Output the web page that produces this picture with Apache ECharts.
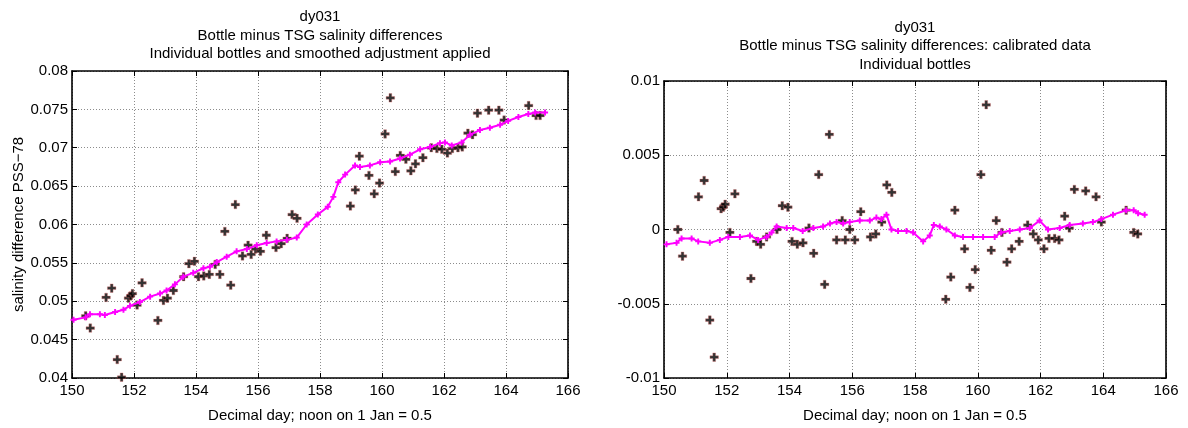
<!DOCTYPE html>
<html>
<head>
<meta charset="utf-8">
<script src="https://cdn.jsdelivr.net/npm/echarts@6/dist/echarts.min.js"></script>
<style>
html,body{margin:0;padding:0;background:#fff;}
#chart{width:1188px;height:428px;}
</style>
</head>
<body>
<div id="chart"></div>
<script>
// ---- Data ----
const xTicks = [150, 152, 154, 156, 158, 160, 162, 164, 166];

// Bottle sample times (decimal day)
const bottleDays = [150.44,150.59,151.10,151.28,151.46,151.60,151.82,151.89,151.95,152.10,152.26,152.77,152.95,153.08,153.27,153.60,153.77,153.95,154.08,154.25,154.43,154.62,154.77,154.93,155.12,155.27,155.50,155.68,155.78,155.92,156.08,156.27,156.58,156.75,156.94,157.10,157.26,158.98,159.14,159.27,159.58,159.75,159.92,160.10,160.27,160.43,160.59,160.77,160.93,161.08,161.32,161.59,161.77,161.93,162.11,162.27,162.45,162.59,162.77,162.92,163.08,163.44,163.77,163.94,164.73,164.97,165.10];

// Left panel: bottle minus TSG differences
const bottleLeft = [0.0481,0.0465,0.0505,0.0517,0.0424,0.0401,0.0504,0.0507,0.0510,0.0495,0.0524,0.0475,0.0501,0.0504,0.0514,0.0532,0.0549,0.0552,0.0532,0.0533,0.0535,0.0548,0.0535,0.0591,0.0521,0.0626,0.0559,0.0573,0.0561,0.0568,0.0565,0.0586,0.0570,0.0575,0.0582,0.0613,0.0608,0.0624,0.0645,0.0689,0.0664,0.0640,0.0654,0.0718,0.0765,0.0669,0.0690,0.0685,0.0670,0.0679,0.0687,0.0700,0.0699,0.0698,0.0693,0.0699,0.0700,0.0701,0.0719,0.0717,0.0745,0.0749,0.0749,0.0736,0.0755,0.0742,0.0742];

// Right panel: calibrated differences
const bottleRight = [0.0000,-0.0018,0.0022,0.0033,-0.0061,-0.0086,0.0014,0.0015,0.0017,-0.0002,0.0024,-0.0033,-0.0008,-0.0010,-0.0005,0.0000,0.0016,0.0015,-0.0008,-0.0010,-0.0009,0.0001,-0.0016,0.0037,-0.0037,0.0064,-0.0007,0.0006,-0.0007,0.0000,-0.0007,0.0012,-0.0005,-0.0003,0.0005,0.0030,0.0025,-0.0047,-0.0032,0.0013,-0.0013,-0.0039,-0.0027,0.0037,0.0084,-0.0014,0.0006,-0.0002,-0.0022,-0.0013,-0.0008,0.0003,-0.0003,-0.0007,-0.0013,-0.0006,-0.0006,-0.0007,0.0009,0.0001,0.0027,0.0026,0.0022,0.0005,0.0013,-0.0002,-0.0003];

// Smoothed adjustment (left panel)
const smoothLeftDays = [150.05,150.44,150.58,150.90,151.06,151.39,151.66,151.87,152.19,152.52,152.84,153.05,153.32,153.59,153.91,154.24,154.45,154.67,154.99,155.31,155.64,155.96,156.28,156.60,156.93,157.25,157.57,157.93,158.25,158.43,158.59,158.81,159.13,159.29,159.61,159.94,160.26,160.58,160.90,161.23,161.55,161.87,162.03,162.25,162.57,162.84,163.16,163.48,163.81,164.07,164.40,164.72,164.94,165.26];
const smoothLeft = [0.0476,0.0479,0.0483,0.0483,0.0482,0.0486,0.0489,0.0494,0.0499,0.0506,0.0510,0.0514,0.0522,0.0532,0.0537,0.0543,0.0545,0.0551,0.0558,0.0565,0.0568,0.0573,0.0576,0.0578,0.0580,0.0583,0.0600,0.0613,0.0623,0.0636,0.0655,0.0665,0.0677,0.0675,0.0677,0.0681,0.0682,0.0686,0.0691,0.0698,0.0701,0.0706,0.0707,0.0703,0.0707,0.0717,0.0723,0.0726,0.0730,0.0735,0.0740,0.0744,0.0746,0.0746];

// Smoothed residual (right panel)
const smoothRightDays = [150.08,150.40,150.56,150.88,151.09,151.46,151.78,152.05,152.42,152.74,153.00,153.27,153.43,153.59,153.91,154.12,154.42,154.76,155.07,155.29,155.50,155.71,155.92,156.24,156.56,156.77,156.93,157.09,157.25,157.46,157.73,157.94,158.26,158.47,158.60,158.79,159.00,159.27,159.53,159.85,160.17,160.54,160.75,161.02,161.34,161.66,161.97,162.24,162.61,162.93,163.35,163.67,163.94,164.31,164.73,164.97,165.11,165.32];
const smoothRight = [-0.0010,-0.0009,-0.0006,-0.0006,-0.0008,-0.0009,-0.0007,-0.0005,-0.0005,-0.0004,-0.0007,-0.0005,-0.0002,0.0002,0.0001,0.0001,-0.0001,0.0001,0.0002,0.0004,0.0005,0.0004,0.0005,0.0006,0.0006,0.0008,0.0007,0.0010,0.0000,-0.0001,-0.0001,-0.0002,-0.0008,-0.0004,0.0003,0.0002,0.0000,-0.0004,-0.0005,-0.0005,-0.0005,-0.0005,-0.0002,-0.0001,0.0000,0.0001,0.0006,0.0000,0.0001,0.0003,0.0004,0.0005,0.0007,0.0010,0.0013,0.0013,0.0011,0.0010];

const titleLeft = ['dy031', 'Bottle minus TSG salinity differences', 'Individual bottles and smoothed adjustment applied'];
const titleRight = ['dy031', 'Bottle minus TSG salinity differences: calibrated data', 'Individual bottles'];
const xName = 'Decimal day; noon on 1 Jan = 0.5';
const yNameLeft = 'salinity difference PSS\u221278';

// ---- Chart ----
const FONT = "'Liberation Sans', Arial, Helvetica, sans-serif";
const FS = 15;
const PLUS = 'path://M2.7,0 L5.3,0 L5.3,2.7 L8,2.7 L8,5.3 L5.3,5.3 L5.3,8 L2.7,8 L2.7,5.3 L0,5.3 L0,2.7 L2.7,2.7 Z';
const zip = (a, b) => a.map((v, i) => [v, b[i]]);
const fmt = v => (Math.abs(v) < 1e-12 ? '0' : String(+v.toFixed(3)));
const GRIDLINE = { show: true, lineStyle: { color: '#8c8c8c', type: [1, 2], width: 1 } };

function xAxes(gi) {
  return [
    { gridIndex: gi, type: 'value', position: 'bottom', min: xTicks[0], max: xTicks[xTicks.length - 1], interval: 2,
      axisLine: { show: true, onZero: false, lineStyle: { color: '#000', width: 1.6 } },
      axisTick: { show: true, inside: true, length: 5, lineStyle: { color: '#000', width: 1 } },
      axisLabel: { color: '#000', fontSize: FS, fontFamily: FONT, margin: 5 },
      splitLine: GRIDLINE,
      name: xName, nameLocation: 'middle', nameGap: 30,
      nameTextStyle: { color: '#000', fontSize: FS, fontFamily: FONT } },
    { gridIndex: gi, type: 'value', position: 'top', min: xTicks[0], max: xTicks[xTicks.length - 1], interval: 2,
      axisLine: { show: true, onZero: false, lineStyle: { color: '#000', width: 1.6 } },
      axisTick: { show: true, inside: true, length: 5, lineStyle: { color: '#000', width: 1 } },
      axisLabel: { show: false }, splitLine: { show: false } }
  ];
}
function yAxes(gi, min, max, interval, name) {
  const main = { gridIndex: gi, type: 'value', position: 'left', min: min, max: max, interval: interval,
      axisLine: { show: true, onZero: false, lineStyle: { color: '#000', width: 1.6 } },
      axisTick: { show: true, inside: true, length: 5, lineStyle: { color: '#000', width: 1 } },
      axisLabel: { color: '#000', fontSize: FS, fontFamily: FONT, margin: 4, formatter: fmt },
      splitLine: GRIDLINE };
  if (name) {
    main.name = name; main.nameLocation = 'middle'; main.nameGap = 46;
    main.nameTextStyle = { color: '#000', fontSize: FS, fontFamily: FONT };
  }
  return [main,
    { gridIndex: gi, type: 'value', position: 'right', min: min, max: max, interval: interval,
      axisLine: { show: true, onZero: false, lineStyle: { color: '#000', width: 1.6 } },
      axisTick: { show: true, inside: true, length: 5, lineStyle: { color: '#000', width: 1 } },
      axisLabel: { show: false }, splitLine: { show: false } }];
}
function titleGraphics(lines, cx, y0) {
  return lines.map((t, i) => ({
    type: 'text', x: cx, y: y0 + i * 18.5, silent: true,
    style: { text: t, fill: '#000', font: FS + 'px ' + FONT, textAlign: 'center', textVerticalAlign: 'middle' }
  }));
}

const bottleStyle = { color: '#000', borderColor: 'rgba(225,110,110,0.55)', borderWidth: 0.8 };
const chart = echarts.init(document.getElementById('chart'), null, { renderer: 'canvas' });
chart.setOption({
  animation: false,
  backgroundColor: '#fff',
  grid: [
    { left: 72, top: 71, width: 496, height: 309 },
    { left: 664, top: 81, width: 502, height: 309 }
  ],
  xAxis: [].concat(xAxes(0), xAxes(1)),
  yAxis: [].concat(yAxes(0, 0.04, 0.08, 0.005, yNameLeft), yAxes(1, -0.01, 0.01, 0.005, null)),
  graphic: [].concat(titleGraphics(titleLeft, 320, 17), titleGraphics(titleRight, 915, 27.5)),
  series: [
    { type: 'scatter', xAxisIndex: 0, yAxisIndex: 0, data: zip(bottleDays, bottleLeft),
      symbol: PLUS, symbolSize: 8.5, itemStyle: bottleStyle, z: 3 },
    { type: 'line', xAxisIndex: 0, yAxisIndex: 0, data: zip(smoothLeftDays, smoothLeft),
      symbol: PLUS, symbolSize: 6, showSymbol: true, lineStyle: { color: '#ff00ff', width: 2 },
      itemStyle: { color: '#ff00ff' }, z: 4 },
    { type: 'scatter', xAxisIndex: 2, yAxisIndex: 2, data: zip(bottleDays, bottleRight),
      symbol: PLUS, symbolSize: 8.5, itemStyle: bottleStyle, z: 3 },
    { type: 'line', xAxisIndex: 2, yAxisIndex: 2, data: zip(smoothRightDays, smoothRight),
      symbol: PLUS, symbolSize: 6, showSymbol: true, lineStyle: { color: '#ff00ff', width: 2 },
      itemStyle: { color: '#ff00ff' }, z: 4 }
  ]
});
</script>
</body>
</html>
